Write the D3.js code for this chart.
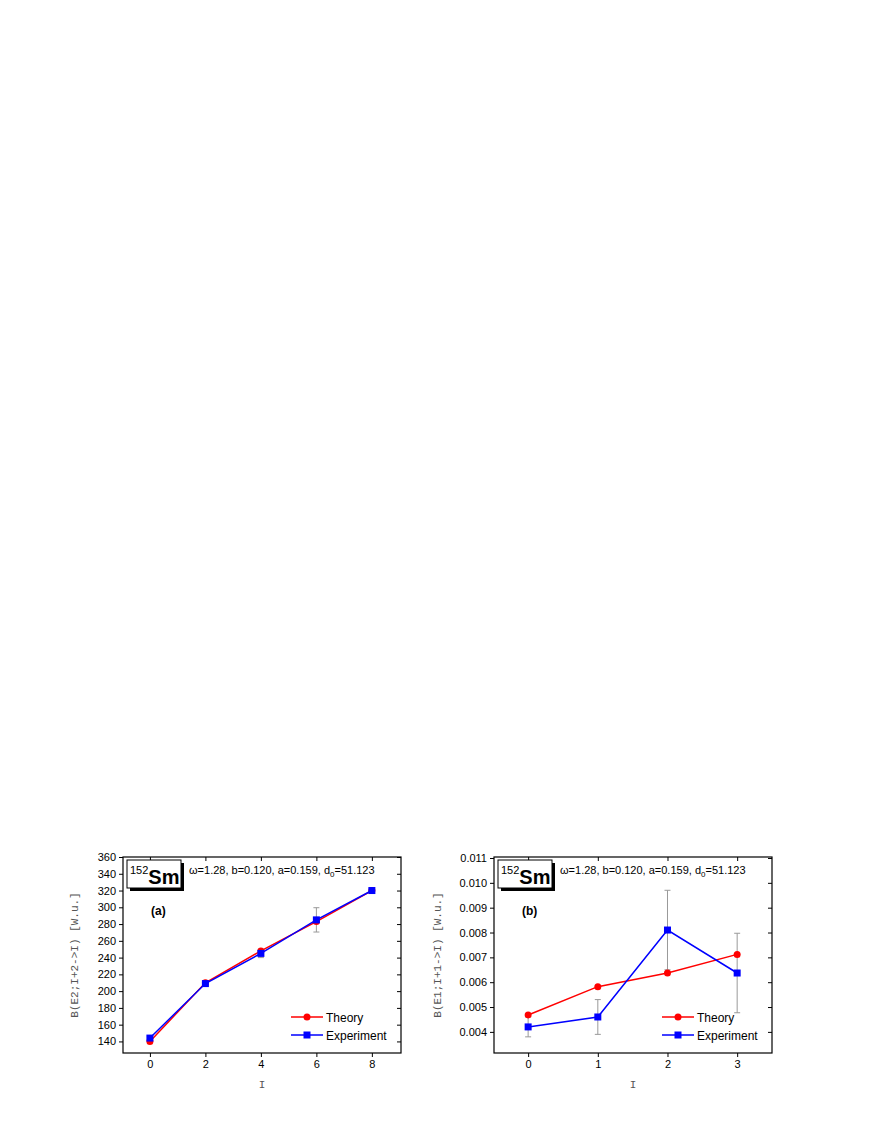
<!DOCTYPE html>
<html><head><meta charset="utf-8">
<script src="https://cdn.jsdelivr.net/npm/d3@7"></script>
<style>body{margin:0;background:#fff}</style>
</head><body><svg></svg>
<script>
// Panel (a): B(E2)
var iA = [0, 2, 4, 6, 8];
var theoryA = [140, 210, 248, 283, 320];
var expA = [144, 209, 245, 285, 320];
var errA = [2, 2, 5, 14.5, 2];
var ticksA = [140, 160, 180, 200, 220, 240, 260, 280, 300, 320, 340, 360];
// Panel (b): B(E1)
var iB = [0, 1, 2, 3];
var theoryB = [0.00468, 0.00582, 0.00637, 0.00712];
var expB = [0.0042, 0.0046, 0.0081, 0.00637];
var errB = [0.0004, 0.0007, 0.0016, 0.0016];
var ticksB = [0.004, 0.005, 0.006, 0.007, 0.008, 0.009, 0.010, 0.011];

var svg = d3.select("svg").attr("width", 872).attr("height", 1128);

function panel(o) {
  var g = svg.append("g");
  var x = d3.scaleLinear().domain(o.xd).range([o.l, o.r]);
  var y = d3.scaleLinear().domain(o.yd).range([o.b, o.t]);

  // axes with ticks
  g.append("g").attr("transform", "translate(0," + o.b + ")")
    .call(d3.axisBottom(x).tickValues(o.xs).tickSize(4).tickFormat(d3.format("d")));
  g.append("g").attr("transform", "translate(" + o.l + ",0)")
    .call(d3.axisLeft(y).tickValues(o.ys).tickSize(4).tickFormat(o.fmt));
  g.append("g").attr("transform", "translate(0," + o.t + ")")
    .call(d3.axisTop(x).tickValues(o.xs).tickSize(-4).tickFormat(""));
  g.append("g").attr("transform", "translate(" + o.r + ",0)")
    .call(d3.axisRight(y).tickValues(o.ys).tickSize(-4).tickFormat(""));
  g.selectAll(".domain").remove();
  g.selectAll(".tick text").attr("font-family", "Liberation Sans, Arial").attr("font-size", 11).attr("fill", "#000");
  g.append("rect").attr("x", o.l).attr("y", o.t).attr("width", o.r - o.l).attr("height", o.b - o.t)
    .attr("fill", "none").attr("stroke", "#000").attr("stroke-width", 1.2);

  // labels
  g.append("text").attr("transform", "translate(" + o.yl + "," + ((o.t + o.b) / 2) + ") rotate(-90)")
    .attr("text-anchor", "middle").attr("font-family", "Liberation Mono, Courier New, monospace")
    .attr("font-size", 11).attr("fill", "#555").text(o.ylab);
  g.append("text").attr("x", (o.l + o.r) / 2).attr("y", 1088).attr("text-anchor", "middle")
    .attr("font-family", "Liberation Mono, monospace").attr("font-size", 11).attr("fill", "#555").text("I");

  // error bars
  o.xv.forEach(function (d, i) {
    var xx = x(d), y0 = y(o.ex[i] - o.er[i]), y1 = y(o.ex[i] + o.er[i]);
    g.append("line").attr("x1", xx).attr("x2", xx).attr("y1", y0).attr("y2", y1).attr("stroke", "#999");
    [y0, y1].forEach(function (yy) {
      g.append("line").attr("x1", xx - 3).attr("x2", xx + 3).attr("y1", yy).attr("y2", yy).attr("stroke", "#999");
    });
  });

  var line = d3.line().x(function (d) { return x(d[0]); }).y(function (d) { return y(d[1]); });
  var th = d3.zip(o.xv, o.th), ex = d3.zip(o.xv, o.ex);
  g.append("path").datum(th).attr("d", line).attr("fill", "none").attr("stroke", "red").attr("stroke-width", 1.5);
  g.selectAll(".c").data(th).enter().append("circle").attr("cx", function (d) { return x(d[0]); })
    .attr("cy", function (d) { return y(d[1]); }).attr("r", 3.5).attr("fill", "red");
  g.append("path").datum(ex).attr("d", line).attr("fill", "none").attr("stroke", "blue").attr("stroke-width", 1.5);
  g.selectAll(".s").data(ex).enter().append("rect").attr("x", function (d) { return x(d[0]) - 3.5; })
    .attr("y", function (d) { return y(d[1]) - 3.5; }).attr("width", 7).attr("height", 7).attr("fill", "blue");

  // nucleus box
  var bx = o.l + 4, by = o.t + 3;
  g.append("rect").attr("x", bx + 3).attr("y", by + 3).attr("width", 54).attr("height", 28).attr("fill", "#000");
  g.append("rect").attr("x", bx).attr("y", by).attr("width", 54).attr("height", 28).attr("fill", "#fff").attr("stroke", "#000");
  var t = g.append("text").attr("x", bx + 3).attr("y", by + 24).attr("font-family", "Liberation Sans, Arial");
  t.append("tspan").attr("font-size", 11).attr("dy", -10).text("152");
  t.append("tspan").attr("font-size", 20).attr("font-weight", "bold").attr("dy", 10).text("Sm");
  var p = g.append("text").attr("x", bx + 62).attr("y", by + 14).attr("font-family", "Liberation Sans, Arial").attr("font-size", 11);
  p.append("tspan").text("ω=1.28, b=0.120, a=0.159, d");
  p.append("tspan").attr("font-size", 8).attr("dy", 3).text("0");
  p.append("tspan").attr("dy", -3).text("=51.123");
  g.append("text").attr("x", o.l + 28).attr("y", o.t + 58).attr("font-family", "Liberation Sans, Arial")
    .attr("font-size", 12).attr("font-weight", "bold").text(o.tag);

  // legend
  var lx = o.r - 110, ly = o.b - 36;
  [["Theory", "red", "c"], ["Experiment", "blue", "s"]].forEach(function (e, i) {
    var yy = ly + i * 18;
    g.append("line").attr("x1", lx).attr("x2", lx + 32).attr("y1", yy).attr("y2", yy).attr("stroke", e[1]).attr("stroke-width", 1.5);
    if (e[2] === "c") g.append("circle").attr("cx", lx + 16).attr("cy", yy).attr("r", 3.5).attr("fill", e[1]);
    else g.append("rect").attr("x", lx + 12.5).attr("y", yy - 3.5).attr("width", 7).attr("height", 7).attr("fill", e[1]);
    g.append("text").attr("x", lx + 35).attr("y", yy + 4.5).attr("font-family", "Liberation Sans, Arial").attr("font-size", 12).text(e[0]);
  });
}

panel({ l: 123, r: 401, t: 857, b: 1053, xd: [-0.97, 9.05], yd: [126.2, 360], xs: iA, ys: ticksA,
  fmt: d3.format("d"), xv: iA, th: theoryA, ex: expA, er: errA, yl: 78, ylab: "B(E2;I+2->I)  [W.u.]", tag: "(a)" });
panel({ l: 494, r: 772, t: 857, b: 1053, xd: [-0.49, 3.5], yd: [0.00315, 0.01104], xs: iB, ys: ticksB,
  fmt: d3.format(".3f"), xv: iB, th: theoryB, ex: expB, er: errB, yl: 441, ylab: "B(E1;I+1->I)  [W.u.]", tag: "(b)" });
</script></body></html>
